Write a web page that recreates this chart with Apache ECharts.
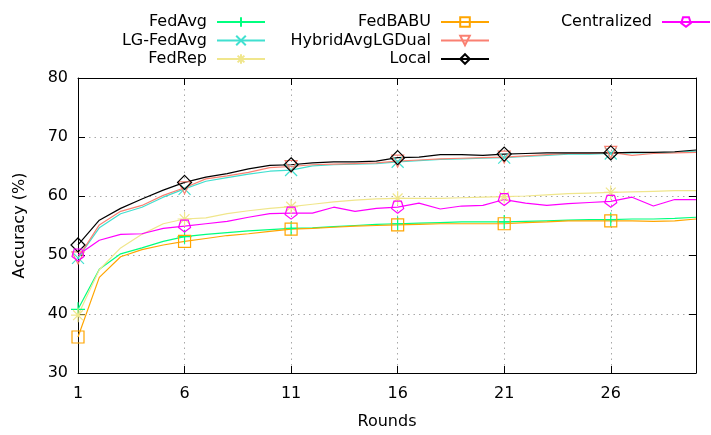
<!DOCTYPE html>
<html>
<head>
<meta charset="utf-8">
<script src="https://cdn.jsdelivr.net/npm/echarts@6/dist/echarts.min.js"></script>
<style>
  html, body { margin: 0; padding: 0; background: #fff; }
  #chart { width: 711px; height: 435px; }
</style>
</head>
<body>
<div id="chart"></div>
<script>
// Communication rounds on the x axis
const rounds = ['1','2','3','4','5','6','7','8','9','10','11','12','13','14','15',
                '16','17','18','19','20','21','22','23','24','25','26','27','28','29','30'];

// Test accuracy (%) per round for each method
const fedAvg = [40.8, 47.6, 50.2, 51.2, 52.3, 53.1, 53.5, 53.8, 54.1, 54.3, 54.5, 54.6, 54.8, 55.0, 55.2,
                55.3, 55.4, 55.5, 55.6, 55.6, 55.6, 55.7, 55.8, 55.9, 56.0, 56.0, 56.1, 56.1, 56.2, 56.4];
const lgFedAvg = [49.5, 54.6, 57.0, 58.1, 59.8, 61.2, 62.5, 63.1, 63.7, 64.2, 64.4, 65.1, 65.3, 65.4, 65.5,
                  65.8, 66.0, 66.2, 66.3, 66.4, 66.5, 66.7, 66.9, 67.1, 67.1, 67.2, 67.3, 67.3, 67.4, 67.6];
const fedRep = [39.8, 47.5, 51.2, 53.5, 55.3, 56.1, 56.3, 57.0, 57.5, 57.9, 58.2, 58.6, 59.0, 59.3, 59.5,
                59.6, 59.6, 59.6, 59.7, 59.8, 59.9, 60.0, 60.2, 60.4, 60.5, 60.6, 60.7, 60.8, 60.9, 60.9];
const fedBabu = [36.1, 46.2, 49.7, 50.9, 51.7, 52.3, 52.8, 53.3, 53.6, 54.0, 54.4, 54.5, 54.7, 54.9, 55.0,
                 55.1, 55.2, 55.3, 55.3, 55.3, 55.3, 55.5, 55.6, 55.8, 55.8, 55.8, 55.8, 55.7, 55.8, 56.1];
const hybridAvgLGDual = [49.5, 55.1, 57.4, 58.4, 60.1, 61.4, 62.9, 63.4, 64.0, 64.8, 65.0, 65.3, 65.4, 65.5, 65.6,
                         65.9, 66.1, 66.3, 66.4, 66.5, 66.6, 66.8, 67.0, 67.2, 67.2, 67.4, 66.9, 67.2, 67.3, 67.4];
const local = [51.7, 55.9, 57.9, 59.5, 61.0, 62.3, 63.2, 63.8, 64.6, 65.2, 65.3, 65.6, 65.8, 65.8, 65.9,
               66.5, 66.6, 67.0, 67.0, 66.9, 67.1, 67.2, 67.3, 67.3, 67.3, 67.3, 67.4, 67.4, 67.5, 67.8];
const centralized = [50.0, 52.5, 53.5, 53.6, 54.5, 54.9, 55.3, 55.7, 56.4, 57.0, 57.1, 57.1, 58.1, 57.4, 57.9,
                     58.1, 58.8, 57.8, 58.3, 58.4, 59.4, 58.8, 58.4, 58.7, 58.9, 59.1, 59.8, 58.3, 59.4, 59.4];

const yTicks = [30, 40, 50, 60, 70, 80];

const FONT = 'DejaVu Sans';
const MARK_EVERY = 5;

const methods = [
  { name: 'FedAvg',          data: fedAvg,          color: '#00ff7f', symbol: 'path://M5,0L5,10M0,5L10,5', size: 14 },
  { name: 'LG-FedAvg',       data: lgFedAvg,        color: '#40e0d0', symbol: 'path://M0,0L10,10M10,0L0,10', size: 12 },
  { name: 'FedRep',          data: fedRep,          color: '#f0e68c', symbol: 'path://M5,0L5,10M0,5L10,5M1.5,1.5L8.5,8.5M8.5,1.5L1.5,8.5', size: 14 },
  { name: 'FedBABU',         data: fedBabu,         color: '#ffa500', symbol: 'path://M0,0L10,0L10,10L0,10Z', size: 12 },
  { name: 'HybridAvgLGDual', data: hybridAvgLGDual, color: '#fa8072', symbol: 'path://M0,0L10,0L5,8.66Z', size: 12 },
  { name: 'Local',           data: local,           color: '#000000', symbol: 'path://M5,0L10,5L5,10L0,5Z', size: 14 },
  { name: 'Centralized',     data: centralized,     color: '#ff00ff', symbol: 'path://M2.06,0.95L7.94,0.95L9.76,6.55L5,10L0.24,6.55Z', size: 12 }
];

const series = methods.map(m => ({
  name: m.name,
  type: 'line',
  xAxisIndex: 0,
  yAxisIndex: 0,
  symbol: m.symbol,
  symbolSize: m.size,
  showAllSymbol: true,
  lineStyle: { color: m.color, width: 1.2 },
  itemStyle: { color: 'rgba(0,0,0,0)', borderColor: m.color, borderWidth: 1.2 },
  emphasis: { disabled: true },
  data: m.data.map((v, i) => (i % MARK_EVERY === 0 ? { value: v } : { value: v, symbol: 'none' }))
}));

const legendCommon = {
  orient: 'vertical',
  align: 'right',
  itemWidth: 48,
  itemHeight: 12,
  itemGap: 2.5,
  top: 9,
  selectedMode: false,
  textStyle: { fontFamily: FONT, fontSize: 16, color: '#000', padding: [0, 5, 0, 0] }
};

const chart = echarts.init(document.getElementById('chart'), null, { renderer: 'canvas' });

const axisTickStyle = { lineStyle: { color: '#000', width: 1 } };
const gridDots = { show: true, lineStyle: { color: '#a8a8a8', width: 1, type: [1.5, 4] } };

chart.setOption({
  animation: false,
  backgroundColor: '#fff',
  grid: { left: 78, right: 15, top: 78, bottom: 58, containLabel: false },
  legend: [
    Object.assign({}, legendCommon, { right: 440, data: ['FedAvg', 'LG-FedAvg', 'FedRep'] }),
    Object.assign({}, legendCommon, { right: 216, data: ['FedBABU', 'HybridAvgLGDual', 'Local'] }),
    Object.assign({}, legendCommon, { right: -5, data: ['Centralized'] })
  ],
  xAxis: [
    {
      type: 'category',
      data: rounds,
      boundaryGap: false,
      name: 'Rounds',
      nameLocation: 'middle',
      nameGap: 41,
      nameTextStyle: { fontFamily: FONT, fontSize: 16, color: '#000' },
      axisLine: { show: true, lineStyle: { color: '#000', width: 1 } },
      axisTick: Object.assign({ show: true, inside: true, length: 7, interval: 4, alignWithLabel: true }, axisTickStyle),
      axisLabel: { interval: 4, margin: 13, fontFamily: FONT, fontSize: 16, color: '#000' },
      splitLine: Object.assign({ interval: 4 }, gridDots)
    },
    {
      type: 'category',
      data: rounds,
      boundaryGap: false,
      position: 'top',
      axisLine: { show: true, lineStyle: { color: '#000', width: 1 } },
      axisTick: Object.assign({ show: true, inside: true, length: 7, interval: 4 }, axisTickStyle),
      axisLabel: { show: false },
      splitLine: { show: false }
    }
  ],
  yAxis: [
    {
      type: 'value',
      min: yTicks[0],
      max: yTicks[yTicks.length - 1],
      interval: 10,
      name: 'Accuracy (%)',
      nameLocation: 'middle',
      nameGap: 50,
      nameTextStyle: { fontFamily: FONT, fontSize: 16, color: '#000' },
      axisLine: { show: true, lineStyle: { color: '#000', width: 1 } },
      axisTick: Object.assign({ show: true, inside: true, length: 7 }, axisTickStyle),
      axisLabel: { margin: 10, fontFamily: FONT, fontSize: 16, color: '#000' },
      splitLine: gridDots
    },
    {
      type: 'value',
      min: yTicks[0],
      max: yTicks[yTicks.length - 1],
      interval: 10,
      position: 'right',
      axisLine: { show: true, lineStyle: { color: '#000', width: 1 } },
      axisTick: Object.assign({ show: true, inside: true, length: 7 }, axisTickStyle),
      axisLabel: { show: false },
      splitLine: { show: false }
    }
  ],
  series: series
});
</script>
</body>
</html>
